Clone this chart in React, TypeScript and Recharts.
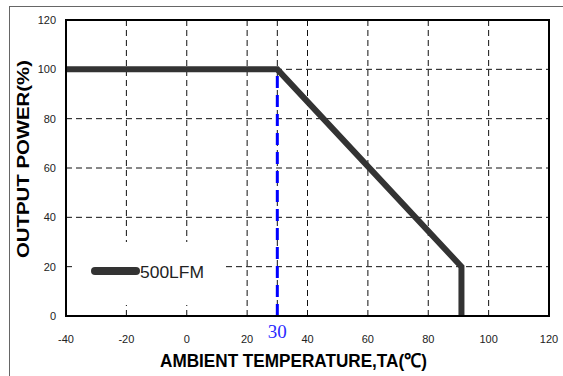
import React from 'react';
import { LineChart, Line, XAxis, YAxis, CartesianGrid, ReferenceLine, ReferenceArea, Legend, Label } from 'recharts';

const temps = [-40, 30, 91, 91];
const power = [100, 100, 20, 0];
const xTicks = [-40, -20, 0, 20, 30, 40, 60, 80, 100, 120];
const yTicks = [0, 20, 40, 60, 80, 100, 120];
const seriesName = '500LFM';
const markTemp = 30;
const markPower = 100;

const data = temps.map((t, i) => ({ t, p: power[i] }));

const XTick = (props: any) => {
  const { x, y, payload } = props;
  if (payload.value === markTemp) {
    return (
      <text x={x} y={y + 3} textAnchor="middle" fontFamily="'Liberation Serif', serif" fontSize={19} fill="#2b2bff">
        {payload.value}
      </text>
    );
  }
  return (
    <text x={x} y={y} dy="0.71em" textAnchor="middle" fontFamily="'Liberation Sans', Arial, sans-serif" fontSize={11} fill="#222">
      {payload.value}
    </text>
  );
};

const LegendContent = () => (
  <div style={{ width: 148, height: 63, background: '#fff', position: 'relative' }}>
    <svg width={148} height={63} style={{ position: 'absolute', left: 0, top: 0 }}>
      <line x1={21} y1={29} x2={62} y2={29} stroke="#333" strokeWidth={8} strokeLinecap="round" />
      <text x={66} y={35.5} fontFamily="'Liberation Sans', Arial, sans-serif" fontSize={17} textLength={64} lengthAdjust="spacingAndGlyphs" fill="#222">{seriesName}</text>
    </svg>
  </div>
);

export default function App() {
  return (
    <div style={{ position: 'absolute', left: 0, top: 0, width: 563, height: 376, background: '#fff' }}>
      <div style={{ position: 'absolute', left: 9, top: 6, right: 0, bottom: 0, borderLeft: '1px solid #666', borderTop: '1px solid #666' }} />
      <LineChart width={563} height={376} data={data} margin={{ top: 20, right: 14, left: 0, bottom: 0 }}>
        <CartesianGrid stroke="#111" strokeWidth={1} strokeDasharray="6 4" />
        <XAxis
          dataKey="t"
          type="number"
          domain={[-40, 120]}
          ticks={xTicks}
          interval={0}
          height={60}
          tickSize={0}
          tickMargin={19}
          tickLine={false}
          axisLine={{ stroke: '#000', strokeWidth: 2 }}
          tick={<XTick />}
        >
          <Label
            content={() => (
              <text x={293.5} y={367} textAnchor="middle" fontFamily="'Liberation Sans', Arial, sans-serif" fontWeight="bold" fontSize={19} textLength={267} lengthAdjust="spacingAndGlyphs" fill="#000">
                AMBIENT TEMPERATURE,TA(℃)
              </text>
            )}
          />
        </XAxis>
        <YAxis
          type="number"
          domain={[0, 120]}
          ticks={yTicks}
          interval={0}
          width={66}
          tickSize={0}
          tickMargin={10}
          tickLine={false}
          axisLine={{ stroke: '#000', strokeWidth: 2 }}
          tick={{ fontFamily: "'Liberation Sans', Arial, sans-serif", fontSize: 11, fill: '#222' }}
        >
          <Label
            content={() => (
              <text x={23} y={159} transform="rotate(-90 23 159)" textAnchor="middle" dominantBaseline="central" fontFamily="'Liberation Sans', Arial, sans-serif" fontWeight="bold" fontSize={17} textLength={198} lengthAdjust="spacingAndGlyphs" fill="#000">
                OUTPUT POWER(%)
              </text>
            )}
          />
        </YAxis>
        <ReferenceArea x1={-40} x2={120} y1={0} y2={120} fill="none" stroke="#000" strokeWidth={2} ifOverflow="visible" />
        <Legend
          layout="horizontal"
          verticalAlign="middle"
          align="center"
          content={<LegendContent />}
          wrapperStyle={{ left: 74, top: 242, width: 148, height: 63, bottom: 'auto', right: 'auto' }}
        />
        <Line
          type="linear"
          dataKey="p"
          name={seriesName}
          stroke="#333"
          strokeWidth={6}
          strokeLinejoin="miter"
          dot={false}
          activeDot={false}
          isAnimationActive={false}
        />
        <ReferenceLine
          segment={[{ x: markTemp, y: 0 }, { x: markTemp, y: markPower }]}
          stroke="#0000ff"
          strokeWidth={3}
          strokeDasharray="12 7"
          ifOverflow="visible"
        />
      </LineChart>
    </div>
  );
}
